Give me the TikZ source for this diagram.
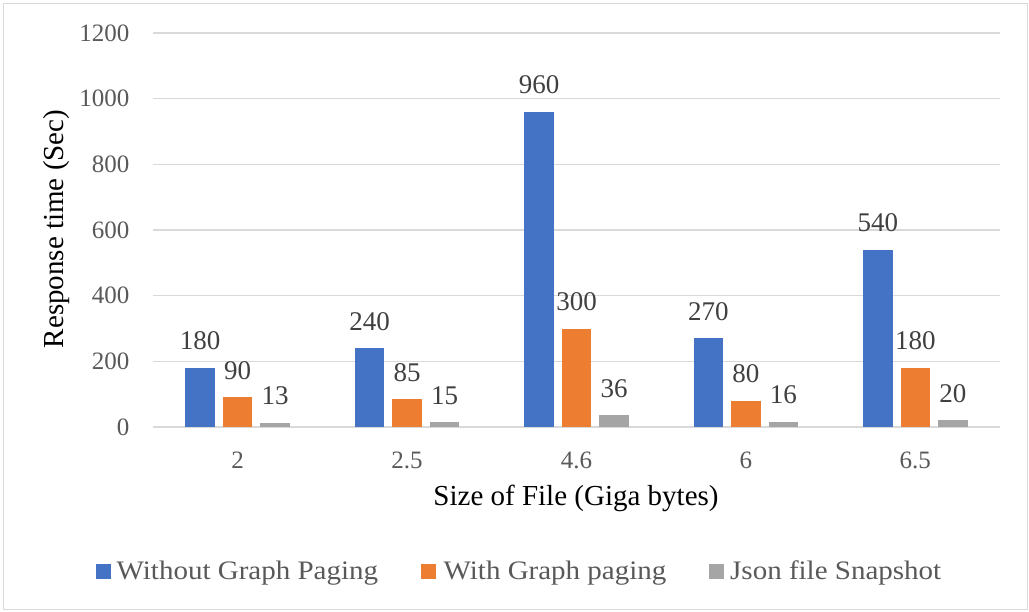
\documentclass[tikz,border=0pt]{standalone}
\usepackage{fontspec}
\setmainfont{Liberation Serif}
\definecolor{cblue}{HTML}{4472C4}
\definecolor{corange}{HTML}{ED7D31}
\definecolor{cgray}{HTML}{A5A5A5}
\definecolor{gridc}{HTML}{D9D9D9}
\definecolor{ticktxt}{HTML}{595959}
\definecolor{valtxt}{HTML}{404040}
\tikzset{
  gridline/.style={draw=gridc, line width=1.2pt},
  frame/.style={draw=gridc, line width=1pt},
  ticklbl/.style={text=ticktxt, inner sep=0pt, font=\fontsize{25}{30}\selectfont},
  vallbl/.style={text=valtxt, inner sep=0pt, anchor=base, font=\fontsize{27}{32}\selectfont},
  axtitle/.style={text=black, inner sep=0pt, anchor=base, font=\fontsize{29}{34}\selectfont},
  legtxt/.style={text=ticktxt, inner sep=0pt, anchor=base west, yscale=0.92, font=\fontsize{29}{34}\selectfont},
}
\begin{document}
\begin{tikzpicture}[x=1pt,y=-1pt]
\useasboundingbox (0,0) rectangle (1029,611);
\fill[white] (0,0) rectangle (1029,611);
\draw[frame] (3,3) rectangle (1027,609);
% gridlines and tick labels
\foreach \v [count=\j] in {0,200,400,600,800,1000,1200}{
  \pgfmathsetmacro{\yy}{427-\v*0.328333}
  \coordinate (gl\j) at (153,\yy);
  \coordinate (gr\j) at (1000,\yy);
  \draw[gridline] (gl\j) -- (gr\j);
  \node[ticklbl, anchor=east] (yt\j) at (129.5,\yy) {\v};
}
% bars
\foreach \c/\a/\b/\g [count=\i] in {2/180/90/13, 2.5/240/85/15, 4.6/960/300/36, 6/270/80/16, 6.5/540/180/20}{
  \pgfmathsetmacro{\cx}{153+169.4*(\i-0.5)}
  \pgfmathsetmacro{\ya}{427-\a*0.328333}
  \pgfmathsetmacro{\yb}{427-\b*0.328333}
  \pgfmathsetmacro{\yg}{427-\g*0.328333}
  \fill[cblue] (\cx-52.25,427) rectangle (\cx-22.75,\ya);
  \fill[corange] (\cx-14.75,427) rectangle (\cx+14.75,\yb);
  \fill[cgray] (\cx+22.75,427) rectangle (\cx+52.25,\yg);
  \node[vallbl] (va\i) at (\cx-37.5,\ya-18) {\a};
  \node[vallbl] (vb\i) at (\cx,\yb-18) {\b};
  \node[vallbl] (vg\i) at (\cx+37.5,\yg-18) {\g};
  \node[ticklbl, anchor=base] (xt\i) at (\cx,468) {\c};
}
% axis titles
\node[axtitle] (xtitle) at (576,505) {Size of File (Giga bytes)};
\node[axtitle, rotate=90] (ytitle) at (63,229) {Response time (Sec)};
% legend
\fill[cblue] (96,564) rectangle (110.5,578.5);
\node[legtxt] (l1) at (116.5,579.5) {Without Graph Paging};
\fill[corange] (421,564) rectangle (435.5,578.5);
\node[legtxt] (l2) at (443.5,579.5) {With Graph paging};
\fill[cgray] (709,564) rectangle (723.5,578.5);
\node[legtxt] (l3) at (730,579.5) {Json file Snapshot};
\end{tikzpicture}
\end{document}
